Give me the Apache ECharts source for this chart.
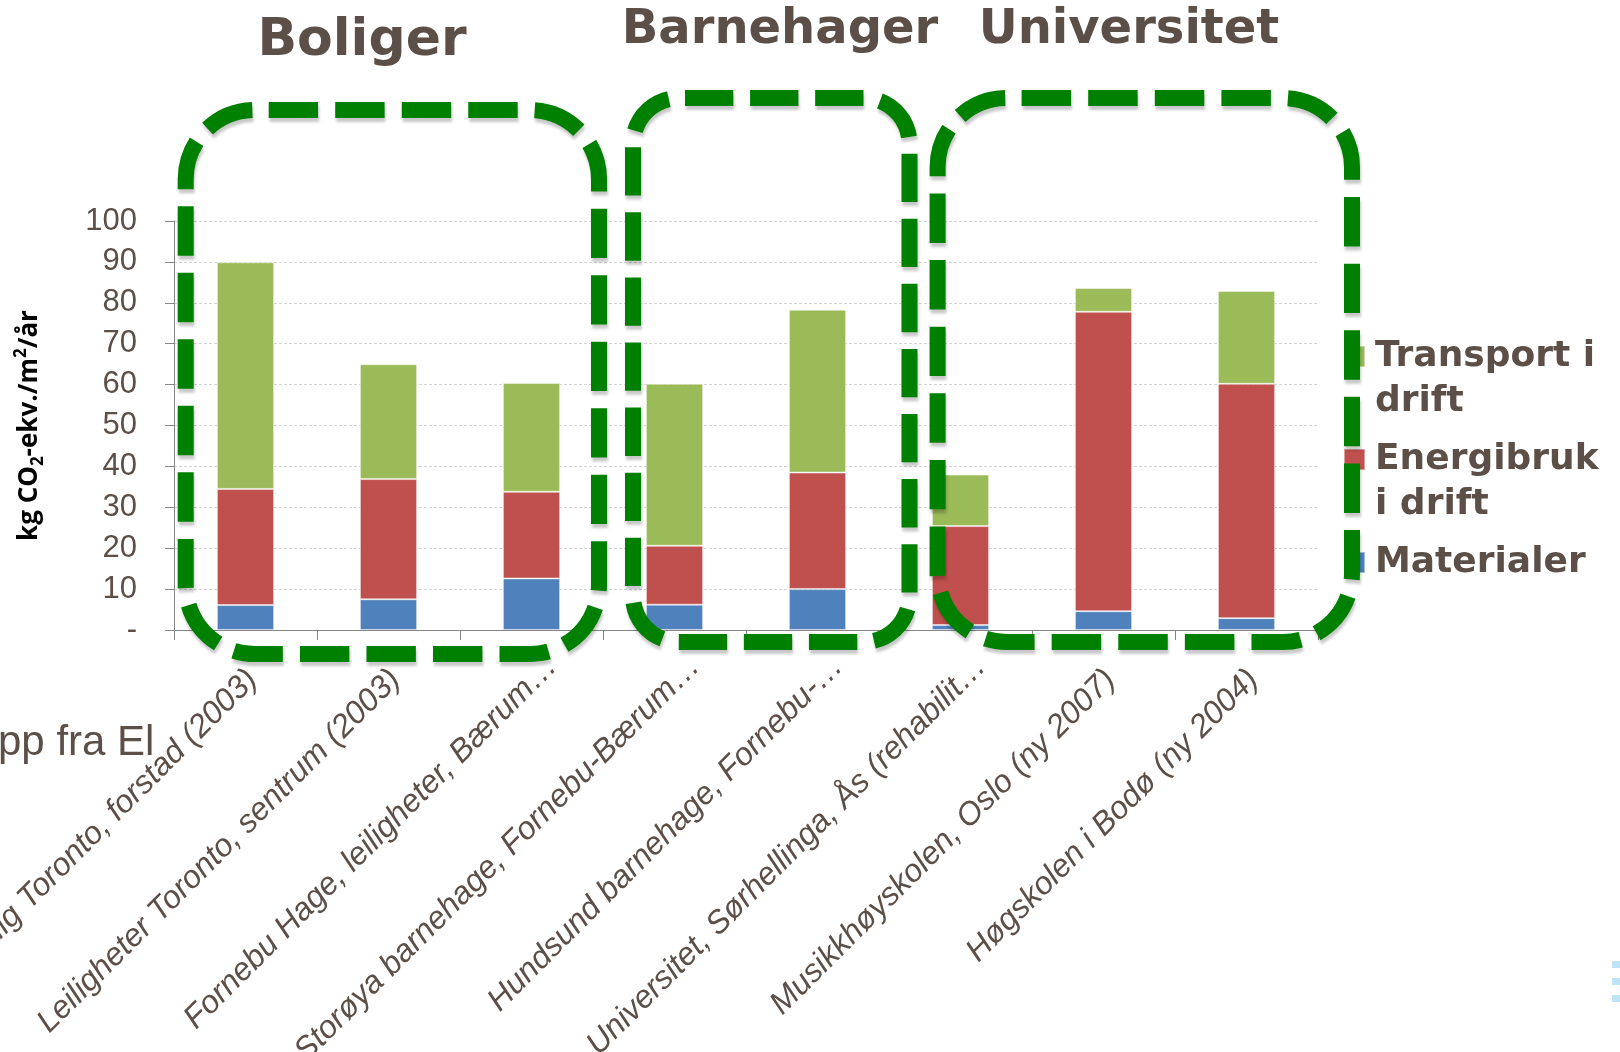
<!DOCTYPE html>
<html>
<head>
<meta charset="utf-8">
<style>
  html, body { margin: 0; padding: 0; background: #ffffff; }
  #chart { width: 1620px; height: 1052px; }
</style>
<script src="https://cdn.jsdelivr.net/npm/echarts@6/dist/echarts.min.js"></script>
</head>
<body>
<div id="chart"></div>
<script>
const categories = [
  'Enebolig Toronto, forstad (2003)',
  'Leiligheter Toronto, sentrum (2003)',
  'Fornebu Hage, leiligheter, Bærum…',
  'Storøya barnehage, Fornebu-Bærum…',
  'Hundsund barnehage, Fornebu-…',
  'Universitet, Sørhellinga, Ås (rehabilit…',
  'Musikkhøyskolen, Oslo (ny 2007)',
  'Høgskolen i Bodø (ny 2004)'
];
const materialer = [6.1, 7.5, 12.6, 6.2, 10.0, 1.2, 4.6, 2.9];
const energibruk = [28.4, 29.4, 21.2, 14.4, 28.5, 24.2, 73.2, 57.3];
const transport  = [55.4, 28.1, 26.6, 39.6, 39.8, 12.6, 5.8, 22.7];
const yTicks = [0, 10, 20, 30, 40, 50, 60, 70, 80, 90, 100];
const groupTitles = ['Boliger', 'Barnehager', 'Universitet'];
const seriesNames = ['Materialer', 'Energibruk i drift', 'Transport i drift'];
const legendLabels = { 'Transport i drift': 'Transport i\ndrift', 'Energibruk i drift': 'Energibruk\ni drift', 'Materialer': 'Materialer' };

const TXT = '#5b4f48';
const chart = echarts.init(document.getElementById('chart'), null, { renderer: 'canvas' });

// square icon in the top 21px of a taller item, so the marker sits at the first text line
const TALL_ICON = 'path://M0 0H21V21H0Z M0 65.9H0.1V66H0Z';

function legendFor(name, top, twoLines) {
  return {
    data: [name],
    left: 1343, top: top, padding: 0,
    orient: 'vertical',
    icon: twoLines ? TALL_ICON : 'rect',
    itemWidth: 21, itemHeight: twoLines ? 66 : 21,
    selectedMode: false,
    formatter: n => legendLabels[n],
    textStyle: {
      fontFamily: 'DejaVu Sans', fontWeight: 'bold', fontSize: 36, lineHeight: 45,
      color: TXT, padding: [0, 0, 0, 5]
    }
  };
}

function dashBox(x, y, w, h, r, startGap) {
  const per = 2 * (w - 2 * r) + 2 * (h - 2 * r) + 2 * Math.PI * r;
  const n = Math.round(per / 66);
  const period = per / n;
  const dash = period * 49 / 66;
  const gap = period - dash;
  return {
    type: 'rect', z: 100,
    shape: { x: x, y: y, width: w, height: h, r: r },
    style: {
      fill: 'none', stroke: '#008000', lineWidth: 16,
      lineDash: [dash, gap], lineDashOffset: dash + gap - startGap,
      shadowBlur: 3, shadowColor: 'rgba(0,0,0,0.22)', shadowOffsetX: 1, shadowOffsetY: 4
    },
    silent: true
  };
}

// truncated labels sit a little further along their direction, as in the source
const axisData = categories.map(c => ({
  value: c,
  textStyle: { padding: [0, c.endsWith('…') ? -29 : -10, 0, 0] }
}));

const option = {
  backgroundColor: '#ffffff',
  animation: false,
  grid: { left: 174, right: 302, top: 221, bottom: 422, containLabel: false, outerBoundsMode: 'none' },
  legend: [
    legendFor('Transport i drift', 334, true),
    legendFor('Energibruk i drift', 437, true),
    legendFor('Materialer', 540, false)
  ],
  xAxis: {
    type: 'category',
    data: axisData,
    axisLine: { lineStyle: { color: '#868686', width: 1 } },
    axisTick: { show: true, length: 10, lineStyle: { color: '#868686' } },
    axisLabel: {
      interval: 0, rotate: 45, margin: 52,
      fontFamily: 'Liberation Sans', fontStyle: 'italic', fontSize: 32, color: TXT,
      hideOverlap: false
    }
  },
  yAxis: {
    type: 'value', min: 0, max: 100, interval: 10,
    name: '{a|kg CO}{s|2}{a|-ekv./m}{p|2}{a|/år}',
    nameLocation: 'middle', nameRotate: 90, nameGap: 127,
    nameTextStyle: {
      rich: {
        a: { fontFamily: 'Open Sans', fontWeight: 'bold', fontSize: 26, color: '#000000', lineHeight: 34 },
        s: { fontFamily: 'Open Sans', fontWeight: 'bold', fontSize: 17, color: '#000000', verticalAlign: 'bottom', lineHeight: 24, padding: [9, 0, 0, 0] },
        p: { fontFamily: 'Open Sans', fontWeight: 'bold', fontSize: 17, color: '#000000', verticalAlign: 'top', lineHeight: 24, padding: [0, 0, 9, 0] }
      }
    },
    axisLine: { show: true, lineStyle: { color: '#868686', width: 1 } },
    axisTick: { show: true, length: 9, lineStyle: { color: '#868686' } },
    axisLabel: {
      margin: 37, fontFamily: 'Liberation Sans', fontSize: 31, color: TXT,
      formatter: v => (v === 0 ? '-' : String(v))
    },
    splitLine: { show: true, lineStyle: { color: '#d4d4d4', type: [3, 2], width: 1 } }
  },
  series: [
    { name: seriesNames[0], type: 'bar', stack: 'tot', data: materialer, barWidth: '40%',
      itemStyle: { color: '#4F81BD', borderColor: 'rgba(255,255,255,0.45)', borderWidth: 1 } },
    { name: seriesNames[1], type: 'bar', stack: 'tot', data: energibruk, barWidth: '40%',
      itemStyle: { color: '#C0504D', borderColor: 'rgba(255,255,255,0.45)', borderWidth: 1 } },
    { name: seriesNames[2], type: 'bar', stack: 'tot', data: transport, barWidth: '40%',
      itemStyle: { color: '#9BBB59', borderColor: 'rgba(255,255,255,0.45)', borderWidth: 1 } }
  ],
  graphic: [
    { type: 'text', x: 362, y: 41, z: 50, style: { text: groupTitles[0], align: 'center', verticalAlign: 'middle', font: 'bold 52px "DejaVu Sans"', fill: TXT } },
    { type: 'text', x: 780, y: 31, z: 50, style: { text: groupTitles[1], align: 'center', verticalAlign: 'middle', font: 'bold 48px "DejaVu Sans"', fill: TXT } },
    { type: 'text', x: 1129, y: 31, z: 50, style: { text: groupTitles[2], align: 'center', verticalAlign: 'middle', font: 'bold 48px "DejaVu Sans"', fill: TXT } },
    { type: 'text', x: -2, y: 743, z: 1, style: { text: 'pp fra El', align: 'left', verticalAlign: 'middle', font: '42px "Liberation Sans"', fill: TXT } },
    dashBox(185.7, 110, 413.3, 544, 69, 14),
    dashBox(633, 98, 276.5, 544, 46, 6),
    dashBox(937.6, 98, 414.4, 544, 69, 15),
    { type: 'rect', shape: { x: 1612, y: 961, width: 8, height: 7 }, style: { fill: '#bfe4f6' }, silent: true },
    { type: 'rect', shape: { x: 1612, y: 978, width: 8, height: 7 }, style: { fill: '#bfe4f6' }, silent: true },
    { type: 'rect', shape: { x: 1612, y: 995, width: 8, height: 7 }, style: { fill: '#bfe4f6' }, silent: true }
  ]
};
chart.setOption(option);
</script>
</body>
</html>
